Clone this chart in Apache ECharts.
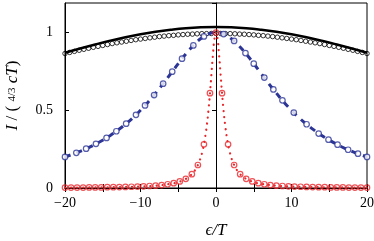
<!DOCTYPE html>
<html><head><meta charset="utf-8">
<script src="https://cdn.jsdelivr.net/npm/echarts@6/dist/echarts.min.js"></script>
<style>html,body{margin:0;padding:0;background:#fff}#c{width:374px;height:241px}</style>
</head><body><div id="c"></div>
<script>
// x tick labels
const xTicks = [-20, -10, 0, 10, 20];
const yTicks = [0, 0.5, 1];

// black solid line
const blackLineX = [-20,-18,-16,-14,-12,-10,-8,-6,-4,-2,0,2,4,6,8,10,12,14,16,18,20];
const blackLineY = [0.870,0.897,0.923,0.948,0.970,0.989,1.005,1.018,1.028,1.034,1.036,1.034,1.028,1.018,1.005,0.989,0.970,0.948,0.923,0.897,0.870];

// black open circles
const blackCircX = [-20,-19.375,-18.75,-18.125,-17.5,-16.875,-16.25,-15.625,-15,-14.375,-13.75,-13.125,-12.5,-11.875,-11.25,-10.625,-10,-9.375,-8.75,-8.125,-7.5,-6.875,-6.25,-5.625,-5,-4.375,-3.75,-3.125,-2.5,-1.875,-1.25,-0.625,0,0.625,1.25,1.875,2.5,3.125,3.75,4.375,5,5.625,6.25,6.875,7.5,8.125,8.75,9.375,10,10.625,11.25,11.875,12.5,13.125,13.75,14.375,15,15.625,16.25,16.875,17.5,18.125,18.75,19.375,20];
const blackCircY = [0.865,0.872,0.879,0.886,0.892,0.899,0.905,0.911,0.917,0.923,0.929,0.934,0.939,0.944,0.949,0.954,0.958,0.962,0.966,0.970,0.974,0.977,0.980,0.982,0.985,0.987,0.989,0.990,0.992,0.993,0.993,0.994,0.994,0.994,0.993,0.993,0.992,0.990,0.989,0.987,0.985,0.982,0.980,0.977,0.974,0.970,0.966,0.962,0.958,0.954,0.949,0.944,0.939,0.934,0.929,0.923,0.917,0.911,0.905,0.899,0.892,0.886,0.879,0.872,0.865];

// blue dashed line
const blueLineX = [-20,-19,-18,-17,-16,-15,-14,-13,-12,-11,-10,-9,-8,-7,-6,-5,-4,-3,-2,-1,0,1,2,3,4,5,6,7,8,9,10,11,12,13,14,15,16,17,18,19,20];
const blueLineY = [0.200,0.217,0.236,0.257,0.281,0.308,0.338,0.372,0.410,0.452,0.500,0.552,0.610,0.671,0.735,0.800,0.862,0.917,0.962,0.990,1.000,0.990,0.962,0.917,0.862,0.800,0.735,0.671,0.610,0.552,0.500,0.452,0.410,0.372,0.338,0.308,0.281,0.257,0.236,0.217,0.200];

// blue open circles
const blueCircX = [-20,-18.5,-17.2,-15.9,-14.5,-13.2,-11.9,-10.6,-9.4,-8.2,-7.0,-5.8,-4.5,-3.0,-1.6,1.0,2.4,3.9,5.0,6.4,7.6,8.8,10.3,12.0,13.6,14.9,16.1,17.5,18.8,20];
const blueCircY = [0.200,0.226,0.253,0.284,0.322,0.365,0.414,0.471,0.531,0.598,0.671,0.748,0.832,0.917,0.975,0.990,0.946,0.868,0.800,0.710,0.634,0.564,0.485,0.410,0.350,0.311,0.279,0.246,0.221,0.200];

// red dotted line
const redLineX = [-20,-16,-13,-10,-8,-6,-5,-4,-3.5,-3,-2.8,-2.6,-2.4,-2.2,-2,-1.8,-1.6,-1.4,-1.2,-1,-0.8,-0.6,-0.4,-0.2,0,0.2,0.4,0.6,0.8,1,1.2,1.4,1.6,1.8,2,2.2,2.4,2.6,2.8,3,3.5,4,5,6,8,10,13,16,20];
const redLineY = [0.0025,0.004,0.006,0.010,0.015,0.027,0.038,0.059,0.075,0.100,0.113,0.129,0.148,0.171,0.200,0.236,0.281,0.338,0.410,0.500,0.610,0.735,0.862,0.962,1.000,0.962,0.862,0.735,0.610,0.500,0.410,0.338,0.281,0.236,0.200,0.171,0.148,0.129,0.113,0.100,0.075,0.059,0.038,0.027,0.015,0.010,0.006,0.004,0.0025];

// red open circles
const redCircX = [-20,-19.2,-18.4,-17.6,-16.8,-16,-15.2,-14.4,-13.6,-12.8,-12,-11.2,-10.4,-9.6,-8.8,-8,-7.2,-6.4,-5.6,-4.8,-4,-3.2,-2.4,-1.6,-0.8,0,0.8,1.6,2.4,3.2,4,4.8,5.6,6.4,7.2,8,8.8,9.6,10.4,11.2,12,12.8,13.6,14.4,15.2,16,16.8,17.6,18.4,19.2,20];
const redCircY = [0.0025,0.003,0.003,0.003,0.0035,0.004,0.004,0.005,0.005,0.006,0.007,0.008,0.009,0.011,0.013,0.015,0.019,0.024,0.031,0.042,0.059,0.089,0.148,0.281,0.610,1.000,0.610,0.281,0.148,0.089,0.059,0.042,0.031,0.024,0.019,0.015,0.013,0.011,0.009,0.008,0.007,0.006,0.005,0.005,0.004,0.004,0.0035,0.003,0.003,0.003,0.0025];

const zip = (a, b) => a.map((v, i) => [v, b[i]]);
const BLUE = '#2c3596', RED = '#e8262a';
const serif = '"Liberation Serif", "DejaVu Serif", serif';
const fmtX = v => xTicks.includes(v) ? (v < 0 ? '\u2212' + (-v) : String(v)) : '';
const fmtY = v => yTicks.some(t => Math.abs(t - v) < 1e-9) ? String(v) : '';

const chart = echarts.init(document.getElementById('c'), null, {renderer: 'canvas'});
chart.setOption({
  animation: false,
  grid: {left: 65, right: 7, top: 3, bottom: 53, outerBoundsMode: 'none', containLabel: false,
         show: true, borderColor: '#000', borderWidth: 1, backgroundColor: 'transparent'},
  xAxis: [{
    type: 'value', min: -20, max: 20, interval: 5, position: 'bottom',
    axisLine: {show: true, onZero: false, lineStyle: {color: '#000', width: 1}},
    axisTick: {show: true, inside: true, length: 4, lineStyle: {color: '#000'}},
    splitLine: {show: false},
    axisLabel: {formatter: fmtX, color: '#000', fontFamily: serif, fontSize: 14, margin: 8},
    name: '\u03f5/T', nameLocation: 'middle', nameGap: 34,
    nameTextStyle: {fontFamily: serif, fontStyle: 'italic', fontSize: 17, color: '#000'}
  }, {
    type: 'value', min: -20, max: 20, interval: 5, position: 'top',
    axisLine: {show: true, lineStyle: {color: '#000', width: 1}},
    axisTick: {show: true, inside: true, length: 4, lineStyle: {color: '#000'}},
    splitLine: {show: false}, axisLabel: {show: false}
  }],
  yAxis: [{
    type: 'value', min: 0, max: 1.19, interval: 0.5, position: 'left',
    axisLine: {show: true, onZero: false, lineStyle: {color: '#000', width: 1}},
    axisTick: {show: true, inside: true, length: 4, lineStyle: {color: '#000'}},
    splitLine: {show: false},
    axisLabel: {formatter: fmtY, color: '#000', fontFamily: serif, fontSize: 14, margin: 12, showMaxLabel: false},
    name: '{it|I} / ( {sm|4/3} {it|cT})', nameLocation: 'middle', nameGap: 44, nameRotate: 90,
    nameTextStyle: {fontFamily: serif, fontSize: 17, color: '#000',
      rich: {it: {fontFamily: serif, fontStyle: 'italic', fontSize: 17, color: '#000'},
             sm: {fontFamily: serif, fontSize: 11, color: '#000'}}}
  }, {
    type: 'value', min: 0, max: 1.19, interval: 0.5, position: 'right',
    axisLine: {show: true, lineStyle: {color: '#000', width: 1}},
    axisTick: {show: true, inside: true, length: 4, lineStyle: {color: '#000'}},
    splitLine: {show: false}, axisLabel: {show: false}
  }],
  series: [
    {type: 'line', data: zip(blackLineX, blackLineY), smooth: true, showSymbol: false, symbol: 'none',
     lineStyle: {color: '#000', width: 2.5}, z: 3},
    {type: 'scatter', data: zip(blackCircX, blackCircY), symbol: 'circle', symbolSize: 4.5,
     itemStyle: {color: 'rgba(255,255,255,0)', borderColor: '#000', borderWidth: 1}, z: 4},
    {type: 'line', data: zip(blueLineX, blueLineY), smooth: true, showSymbol: false, symbol: 'none',
     lineStyle: {color: BLUE, width: 3, type: [6, 6]}, z: 5},
    {type: 'scatter', data: zip(blueCircX, blueCircY), symbol: 'circle', symbolSize: 5.5,
     itemStyle: {color: '#fff', borderColor: BLUE, borderWidth: 1.2}, z: 6},
    {type: 'line', data: zip(redLineX, redLineY), smooth: true, showSymbol: false, symbol: 'none',
     lineStyle: {color: RED, width: 2.2, type: [0.1, 6], cap: 'round'}, z: 7},
    {type: 'scatter', data: zip(redCircX, redCircY), symbol: 'circle', symbolSize: 5.5,
     itemStyle: {color: 'rgba(255,255,255,0)', borderColor: RED, borderWidth: 1.2}, z: 8}
  ]
});
</script></body></html>
